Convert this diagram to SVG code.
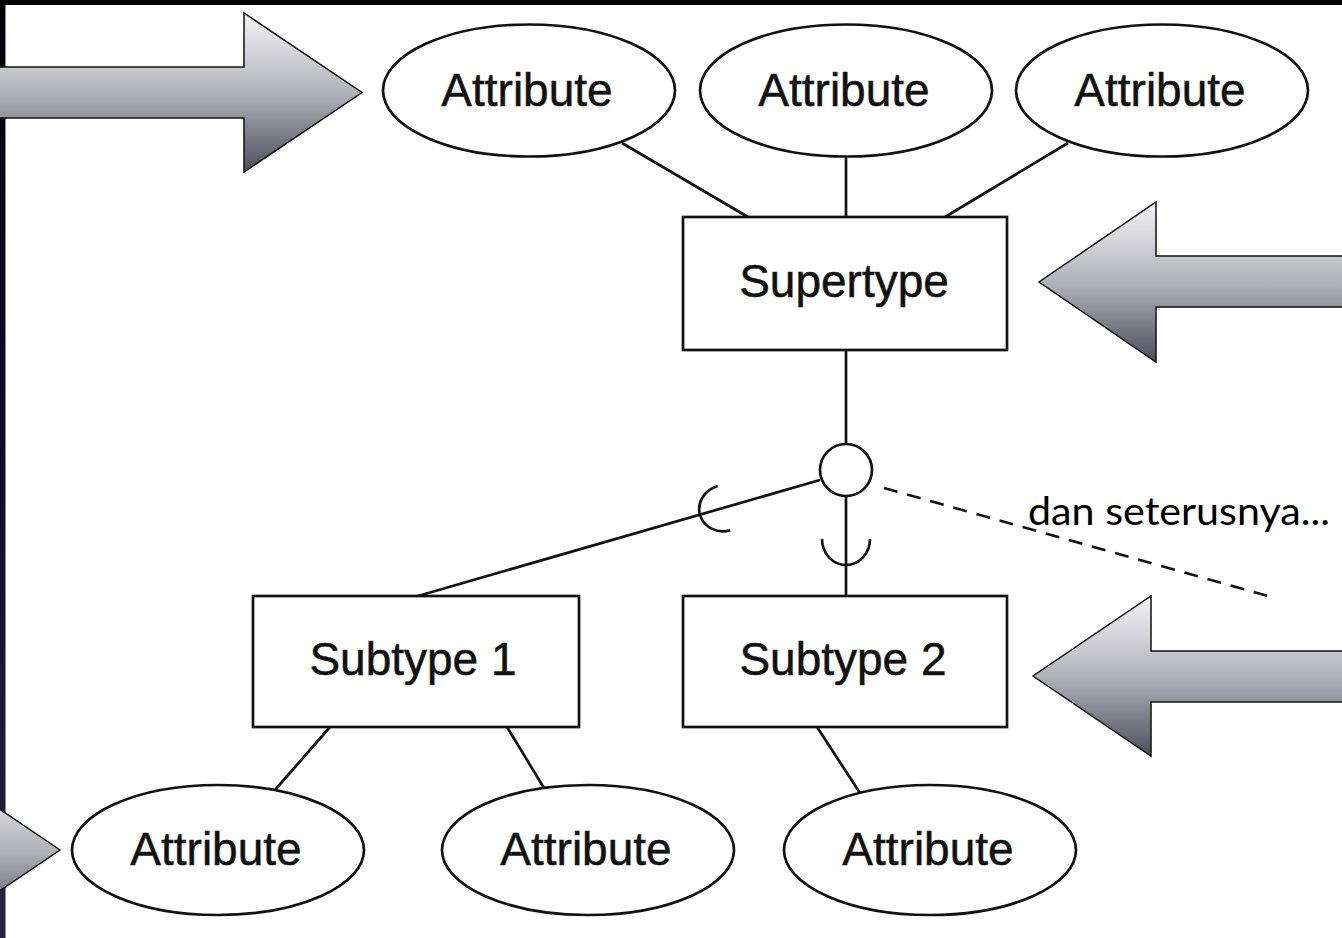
<svg xmlns="http://www.w3.org/2000/svg" width="1342" height="938" viewBox="0 0 1342 938">
<style>
.shape{fill:#fff;stroke:#111;stroke-width:2.7}
.lbl{font-family:"Liberation Sans",Arial,sans-serif;font-size:46px;fill:#111;stroke:#111;stroke-width:0.5;text-anchor:middle}
.con{stroke:#111;stroke-width:2.7;fill:none}
.arrow{fill:url(#ag);stroke:#111;stroke-width:1.5;stroke-linejoin:miter}
</style>
<defs>
<linearGradient id="ag" x1="0" y1="0" x2="0" y2="1">
<stop offset="0" stop-color="#f4f4f6"/>
<stop offset="0.5" stop-color="#b2b2bb"/>
<stop offset="1" stop-color="#4e4e5e"/>
</linearGradient>
<linearGradient id="sg" x1="0" y1="0" x2="0" y2="1">
<stop offset="0" stop-color="#000"/>
<stop offset="0.4" stop-color="#0a0a28"/>
<stop offset="1" stop-color="#24243e"/>
</linearGradient>
</defs>
<rect width="1342" height="938" fill="#fff"/>
<rect x="0" y="0" width="1342" height="5" fill="#000"/>
<rect x="0" y="0" width="5" height="938" fill="url(#sg)"/>
<line x1="5.5" y1="5" x2="5.5" y2="938" stroke="#8a8aa2" stroke-width="1"/>

<g id="connectors">
<line class="con" x1="622" y1="143" x2="748" y2="217"/>
<line class="con" x1="846" y1="157" x2="846" y2="217"/>
<line class="con" x1="1068" y1="143" x2="945" y2="217"/>
<line class="con" x1="846" y1="350" x2="846" y2="444"/>
<line class="con" x1="846" y1="496" x2="846" y2="596"/>
<line class="con" x1="820" y1="480" x2="418" y2="596"/>
<path class="con" d="M822,539 A24,26 0 0 0 870,539"/>
<path class="con" transform="translate(700,515) rotate(73.96)" d="M-23,-25 A23,25 0 0 0 23,-25"/>
<line class="con" x1="884" y1="488" x2="1268" y2="596" stroke-dasharray="14 10"/>
<line class="con" x1="330" y1="727" x2="275" y2="790"/>
<line class="con" x1="507" y1="727" x2="544" y2="788"/>
<line class="con" x1="817" y1="727" x2="860" y2="793"/>
</g>

<g id="circle-node"><circle class="shape" cx="846" cy="470" r="26"/></g>

<g id="attr-top-1"><ellipse class="shape" cx="529" cy="90.5" rx="146" ry="66"/><text class="lbl" x="527" y="106">Attribute</text></g>
<g id="attr-top-2"><ellipse class="shape" cx="846" cy="90.5" rx="146" ry="66"/><text class="lbl" x="844" y="106">Attribute</text></g>
<g id="attr-top-3"><ellipse class="shape" cx="1162" cy="90.5" rx="146" ry="66"/><text class="lbl" x="1160" y="106">Attribute</text></g>

<g id="supertype"><rect class="shape" x="683" y="217" width="324" height="133"/><text class="lbl" x="844" y="297">Supertype</text></g>
<g id="subtype-1"><rect class="shape" x="253" y="596" width="326" height="131"/><text class="lbl" x="413" y="675">Subtype 1</text></g>
<g id="subtype-2"><rect class="shape" x="683" y="596" width="324" height="131"/><text class="lbl" x="843" y="675">Subtype 2</text></g>

<g id="attr-bot-1"><ellipse class="shape" cx="218" cy="850" rx="146" ry="65"/><text class="lbl" x="216" y="865">Attribute</text></g>
<g id="attr-bot-2"><ellipse class="shape" cx="588" cy="850" rx="146" ry="65"/><text class="lbl" x="586" y="865">Attribute</text></g>
<g id="attr-bot-3"><ellipse class="shape" cx="930" cy="850" rx="146" ry="65"/><text class="lbl" x="928" y="865">Attribute</text></g>

<text x="1028" y="525" font-family="Lato,'Open Sans',sans-serif" font-size="38" fill="#000" textLength="302" lengthAdjust="spacingAndGlyphs">dan seterusnya...</text>

<g id="arrow-top-left"><polygon class="arrow" points="-20,67 244,67 244,13 362,92.5 244,172 244,118 -20,118"/></g>
<g id="arrow-right-1"><polygon class="arrow" points="1360,256 1156,256 1156,202 1039,282 1156,362 1156,307 1360,307"/></g>
<g id="arrow-right-2"><polygon class="arrow" points="1360,651 1151,651 1151,596 1033,676 1151,756 1151,702 1360,702"/></g>
<g id="arrow-bottom-left"><polygon class="arrow" points="-300,825 -58,825 -58,770 60,850 -58,930 -58,876 -300,876"/></g>
</svg>
